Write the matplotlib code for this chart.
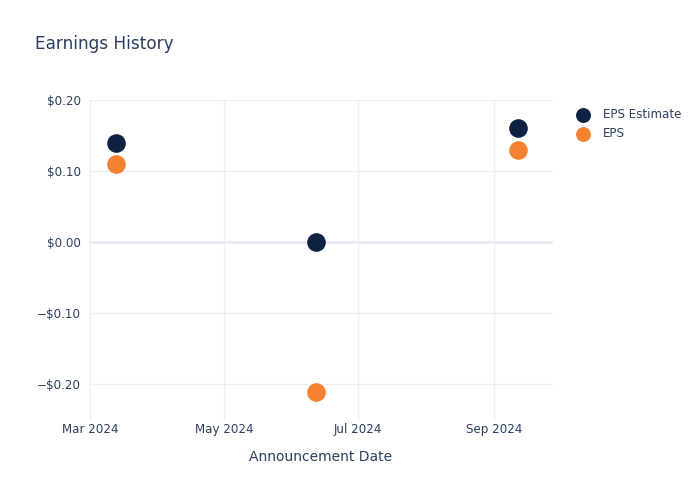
import matplotlib
matplotlib.use("Agg")
import matplotlib.pyplot as plt
import pandas as pd

# data
dates = pd.to_datetime(["2024-03-13", "2024-06-12", "2024-09-12"])
eps_estimate = [0.14, 0.00, 0.16]
eps_actual = [0.11, -0.21, 0.13]
tick_dates = pd.to_datetime(["2024-03-01", "2024-05-01", "2024-07-01", "2024-09-01"])
tick_labels = ["Mar 2024", "May 2024", "Jul 2024", "Sep 2024"]
y_ticks = [-0.20, -0.10, 0.00, 0.10, 0.20]

text_color = "#2a3f5f"
grid_color = "#ebf0f8"
navy = "#0d2240"
orange = "#f58231"

plt.rcParams["font.family"] = ["DejaVu Sans"]

fig = plt.figure(figsize=(7, 5), dpi=100)
ax = fig.add_axes([0.127, 0.16, 0.663, 0.64])

ax.scatter(dates, eps_estimate, s=180, color=navy, zorder=3, label="EPS Estimate", linewidths=0)
ax.scatter(dates, eps_actual, s=180, color=orange, zorder=3, label="EPS", linewidths=0)

ax.set_xlim(pd.Timestamp("2024-02-29 12:00"), pd.Timestamp("2024-09-28"))
ax.set_ylim(-0.25, 0.20)
ax.set_xticks(tick_dates)
ax.set_xticklabels(tick_labels)
ax.set_yticks(y_ticks)
ax.set_yticklabels([f"\u2212${abs(v):.2f}" if v < 0 else f"${v:.2f}" for v in y_ticks])

ax.grid(True, color=grid_color, linewidth=1, zorder=0)
ax.axhline(0, color="#e2e7f0", linewidth=2, zorder=1)
for s in ax.spines.values():
    s.set_visible(False)
ax.tick_params(length=0, colors=text_color, labelsize=8.6)
ax.tick_params(axis="y", pad=6)
ax.tick_params(axis="x", pad=2)

ax.set_xlabel("Announcement Date", color=text_color, fontsize=10, labelpad=10)
fig.text(0.05, 0.912, "Earnings History", color=text_color, fontsize=12.2, va="center")

leg = ax.legend(loc="upper left", bbox_to_anchor=(1.02, 1.0), frameon=False,
                fontsize=8.6, labelcolor=text_color, handletextpad=0.7,
                markerscale=0.8, borderaxespad=0.3)

fig.savefig("out.png", dpi=100)
